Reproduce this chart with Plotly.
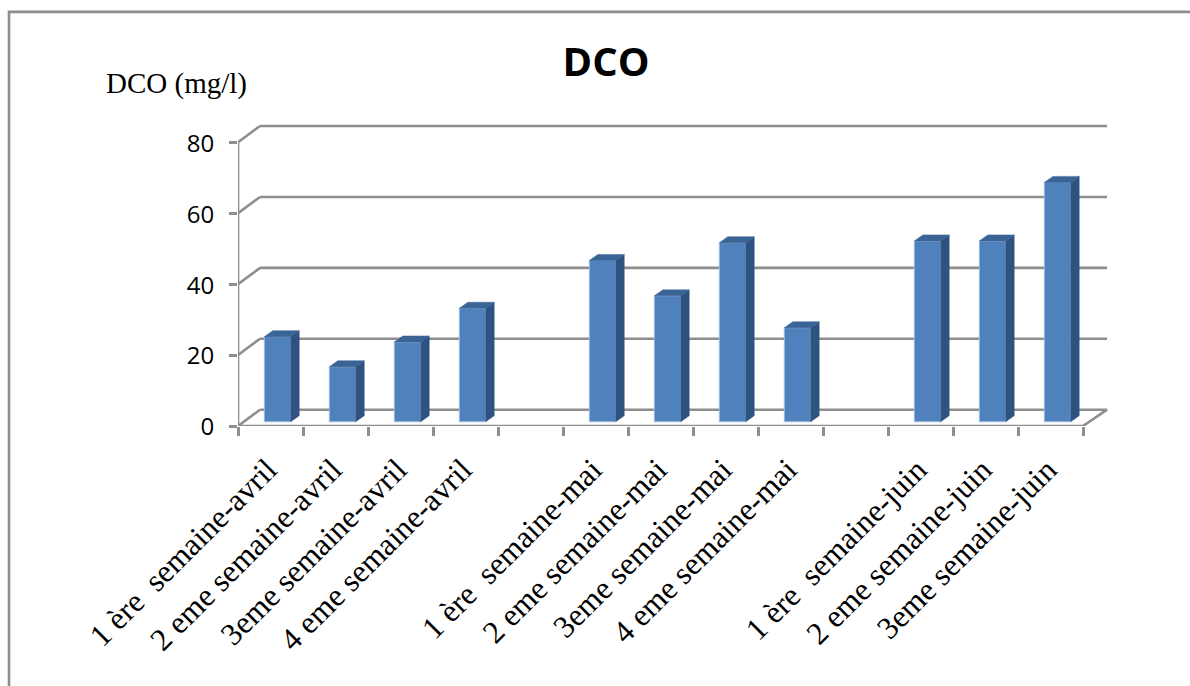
import plotly.graph_objects as go

# Weekly COD readings; empty slots separate the months
categories = [
    "1 ère\u00a0 semaine-avril", "2 eme semaine-avril", "3eme semaine-avril", "4 eme semaine-avril", "",
    "1 ère\u00a0 semaine-mai", "2 eme semaine-mai", "3eme semaine-mai", "4 eme semaine-mai", "",
    "1 ère\u00a0 semaine-juin", "2 eme semaine-juin", "3eme semaine-juin",
]
dco = [24, 15.5, 22.5, 32, None, 45.5, 35.5, 50.5, 26.5, None, 51, 51, 67.5]
y_ticks = [0, 20, 40, 60, 80]

GREY = "#8E8E8E"
FRONT, SIDE, TOP = "#4F81BD", "#2F5380", "#3A6396"
LINE_W = 2.6

# Oblique projection of the 3D box, expressed in axis units
PX_X, PX_Y = 65.0, 3.5425
WALL_DX, WALL_DY = 22 / PX_X, 16.3 / PX_Y
BAR_DX, BAR_DY = 8.5 / PX_X, 6 / PX_Y
BAR_LEFT, BAR_W, BAR_BASE = 0.405, 0.406, 1.2
N = len(categories)
X_MAX = 13.37

fig = go.Figure()

positions = [i + BAR_LEFT + BAR_W / 2 for i, v in enumerate(dco) if v is not None]
values = [v for v in dco if v is not None]
fig.add_bar(x=positions, y=values, base=BAR_BASE, width=BAR_W,
            marker=dict(color=FRONT, line=dict(color="#9DBBE0", width=1)))

# Side and top faces of every column
side_x, side_y, top_x, top_y = [], [], [], []
for x, v in zip(positions, values):
    l, r, b, t = x - BAR_W / 2, x + BAR_W / 2, BAR_BASE, BAR_BASE + v
    side_x += [r, r + BAR_DX, r + BAR_DX, r, r, None]
    side_y += [b, b + BAR_DY, t + BAR_DY, t, b, None]
    top_x += [l, l + BAR_DX, r + BAR_DX, r, l, None]
    top_y += [t, t + BAR_DY, t + BAR_DY, t, t, None]
for xs, ys, col in ((side_x, side_y, SIDE), (top_x, top_y, TOP)):
    fig.add_scatter(x=xs, y=ys, mode="lines", fill="toself", fillcolor=col,
                    line=dict(color=col, width=0.5), hoverinfo="skip")

# Back wall gridlines sit behind the columns
shapes = [dict(type="line", layer="below", xref="x", yref="y",
               x0=WALL_DX, x1=X_MAX, y0=v + WALL_DY, y1=v + WALL_DY,
               line=dict(color=GREY, width=LINE_W)) for v in y_ticks]
# Chart frame, open on the right and at the bottom
shapes.append(dict(type="path", xref="paper", yref="paper", layer="below",
                   path="M -0.2605 -0.85 L -0.2605 1.3315 L 1.1 1.3315",
                   line=dict(color=GREY, width=LINE_W)))

# Axis lines and the slanted wall connectors
frame_x, frame_y = [0, 0, None, 0, N, None], [0, 80, None, 0, 0, None]
for v in y_ticks:
    frame_x += [0, WALL_DX, None]
    frame_y += [v, v + WALL_DY, None]
frame_x += [N, X_MAX]
frame_y += [0, WALL_DY]
fig.add_scatter(x=frame_x, y=frame_y, mode="lines", cliponaxis=False,
                line=dict(color=GREY, width=LINE_W), hoverinfo="skip")

fig.update_layout(
    width=1190, height=686, autosize=False, showlegend=False,
    paper_bgcolor="white", plot_bgcolor="white",
    margin=dict(l=238, r=73, t=115, b=260.3),
    shapes=shapes,
    title=dict(text="<b>DCO</b>", x=606 / 1190, xanchor="center", y=1 - 62 / 686, yanchor="middle",
               font=dict(family="Open Sans", size=40, color="black")),
    annotations=[dict(text="DCO (mg/l)", xref="paper", yref="paper", showarrow=False,
                      x=(176 - 238) / 879, y=(686 - 260.3 - 84) / 310.7,
                      xanchor="center", yanchor="middle",
                      font=dict(family="Liberation Serif", size=29, color="black"))],
    xaxis=dict(range=[0, (1117 - 238) / PX_X], tickmode="array",
               tickvals=[i + 0.5 for i, c in enumerate(categories) if c],
               ticktext=[c for c in categories if c], tickangle=-45, ticks="",
               showgrid=False, zeroline=False, showline=False,
               ticklabelstandoff=18, ticklabelshift=-3,
               tickfont=dict(family="Liberation Serif", size=31.5, color="black"),
               minor=dict(ticks="outside", ticklen=9, tickwidth=LINE_W, tickcolor=GREY,
                          tick0=0, dtick=1, showgrid=False)),
    yaxis=dict(range=[0, (425.7 - 115) / PX_Y], tickmode="array", tickvals=y_ticks,
               ticks="outside", ticklen=8, tickwidth=LINE_W, tickcolor=GREY,
               showgrid=False, zeroline=False, showline=False,
               ticklabelstandoff=10, ticklabelshift=1,
               tickfont=dict(family="Open Sans", size=24, color="black")),
)

fig.write_html("out.html")
